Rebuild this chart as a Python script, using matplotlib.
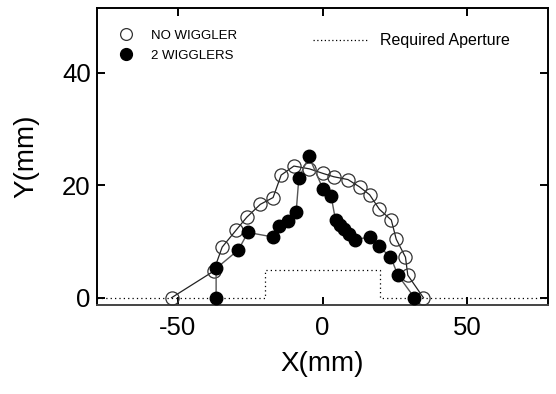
import matplotlib
matplotlib.use("Agg")
import matplotlib.pyplot as plt
from matplotlib.lines import Line2D

plt.rcParams['font.family'] = ['Liberation Sans', 'DejaVu Sans']
plt.rcParams['axes.unicode_minus'] = False

# Dynamic aperture boundary without wigglers
x_none = [-52.2, -37.7, -34.7, -29.9, -26.2, -21.5, -17.1, -14.3, -9.9, -4.5,
          0.1, 3.9, 8.8, 12.8, 16.3, 19.7, 23.8, 25.5, 28.7, 29.5, 34.9]
y_none = [0.0, 4.7, 9.0, 12.0, 14.3, 16.6, 17.8, 21.8, 23.4, 22.9,
          22.1, 21.5, 21.0, 19.7, 18.3, 15.7, 13.8, 10.4, 7.2, 4.0, 0.0]

# Dynamic aperture boundary with two wigglers
x_two = [-36.8, -36.8, -29.1, -25.8, -17.2, -14.9, -11.8, -9.1, -8.2, -4.7,
         0.1, 3.0, 4.5, 6.1, 7.6, 9.3, 11.1, 16.3, 19.4, 23.5, 26.1, 31.8]
y_two = [0.0, 5.2, 8.5, 11.6, 10.8, 12.7, 13.6, 15.3, 21.2, 25.1,
         19.4, 18.0, 13.8, 12.9, 12.2, 11.3, 10.3, 10.8, 9.1, 7.3, 4.0, 0.0]

# Required aperture outline
x_req = [-78, -20, -20, 20, 20, 78]
y_req = [0, 0, 5, 5, 0, 0]

x_ticks = [-50, 0, 50]
y_ticks = [0, 20, 40]

fig = plt.figure(figsize=(5.56, 3.94), dpi=100)
ax = fig.add_axes([0.1745, 0.2259, 0.8111, 0.7538])

ax.plot(x_req, y_req, linestyle=(0, (1, 2.5)), color='black', linewidth=0.9)
ax.plot(x_none, y_none, color='#222222', linewidth=0.9, marker='o',
        markersize=9.5, markerfacecolor='none', markeredgecolor='#333333',
        markeredgewidth=0.9, zorder=3)
ax.plot(x_two, y_two, color='#555555', linewidth=1.0, marker='o',
        markersize=9, markerfacecolor='black', markeredgecolor='black',
        zorder=4)

ax.set_xlim(-78, 78)
ax.set_ylim(-1.3, 51.5)
ax.set_xticks(x_ticks)
ax.set_yticks(y_ticks)
ax.tick_params(direction='in', length=6, width=1.4, labelsize=18.5,
               top=True, right=True)
ax.tick_params(axis='x', pad=8)
ax.tick_params(axis='y', pad=4.5)
for s in ax.spines.values():
    s.set_linewidth(1.4)
ax.spines['bottom'].set_color('#444444')

ax.set_xlabel('X(mm)', fontsize=20, labelpad=8)
ax.set_ylabel('Y(mm)', fontsize=20, labelpad=16)

h1 = [Line2D([], [], linestyle='none', marker='o', markersize=8.5,
             markerfacecolor='none', markeredgecolor='#333333', markeredgewidth=0.9),
      Line2D([], [], linestyle='none', marker='o', markersize=8.5,
             markerfacecolor='black', markeredgecolor='black')]
leg1 = ax.legend(h1, ['NO WIGGLER', '2 WIGGLERS'], loc='upper left',
                 bbox_to_anchor=(0.037, 0.945), frameon=False, fontsize=9.5,
                 handlelength=1.0, handletextpad=1.4, labelspacing=0.6,
                 borderaxespad=0)
ax.add_artist(leg1)
h2 = [Line2D([], [], linestyle=(0, (1, 2)), color='black', linewidth=0.9)]
ax.legend(h2, ['Required Aperture'], loc='upper left',
          bbox_to_anchor=(0.464, 0.937), frameon=False, fontsize=11.5,
          handlelength=3.5, handletextpad=0.7, borderaxespad=0)

fig.savefig('out.png', dpi=100)
